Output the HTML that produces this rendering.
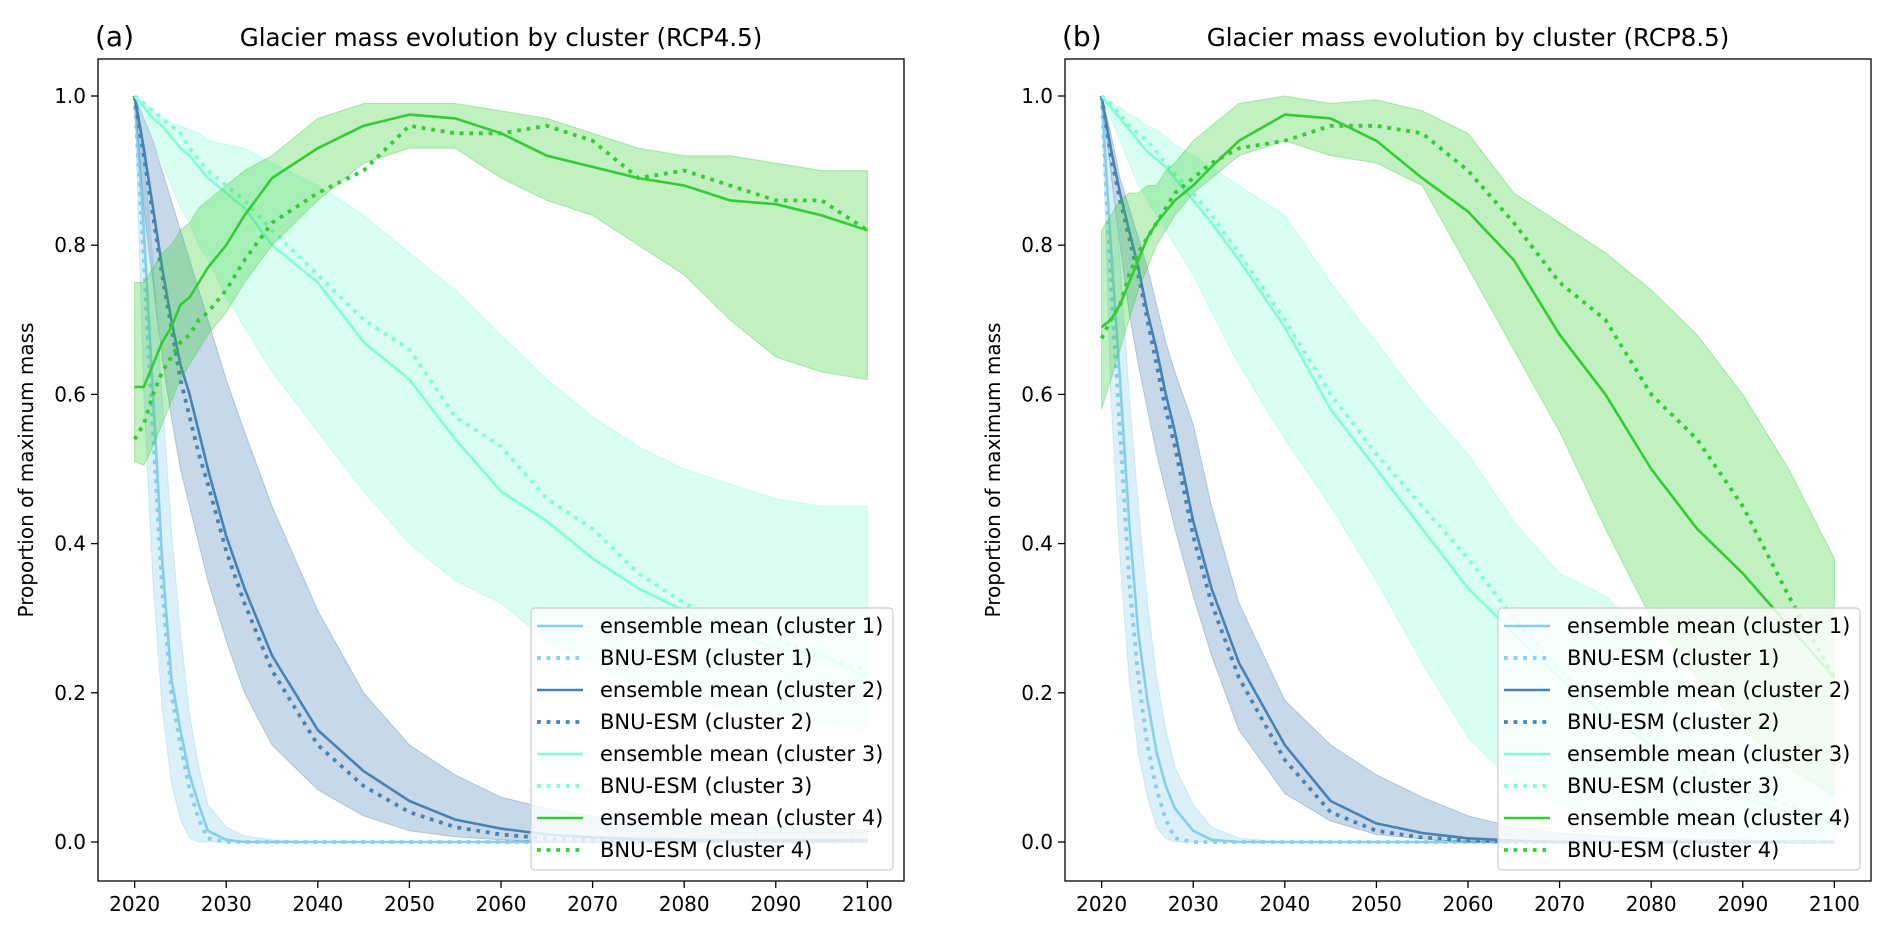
<!DOCTYPE html>
<html><head><meta charset="utf-8"><style>
html,body{margin:0;padding:0;background:#fff;}
svg{display:block;font-family:"DejaVu Sans","Liberation Sans",sans-serif;}
</style></head><body>
<svg id="chart" width="1892" height="931" viewBox="0 0 1892 931" xmlns="http://www.w3.org/2000/svg"></svg>
<script>
const years=[2020,2021,2022,2023,2024,2025,2026,2027,2028,2030,2032,2035,2040,2045,2050,2055,2060,2065,2070,2075,2080,2085,2090,2095,2100];
const xTicks=[2020,2030,2040,2050,2060,2070,2080,2090,2100];
const yTicks=[0,0.2,0.4,0.6,0.8,1.0];
const yTickLabels=["0.0","0.2","0.4","0.6","0.8","1.0"];
const titles=["Glacier mass evolution by cluster (RCP4.5)","Glacier mass evolution by cluster (RCP8.5)"];
const panelLetters=["(a)","(b)"];
const legendLabels=["ensemble mean (cluster 1)","BNU-ESM (cluster 1)","ensemble mean (cluster 2)","BNU-ESM (cluster 2)","ensemble mean (cluster 3)","BNU-ESM (cluster 3)","ensemble mean (cluster 4)","BNU-ESM (cluster 4)"];

// Panel A (RCP4.5)
const a_c1_mean=[1,0.82,0.6,0.38,0.22,0.15,0.09,0.05,0.015,0.003,0,0,0,0,0,0,0,0,0,0,0,0,0,0,0];
const a_c1_bnu=[1,0.78,0.55,0.34,0.2,0.13,0.07,0.03,0.005,0,0,0,0,0,0,0,0,0,0,0,0,0,0,0,0];
const a_c1_lo=[1,0.6,0.35,0.18,0.08,0.03,0.005,0,0,0,0,0,0,0,0,0,0,0,0,0,0,0,0,0,0];
const a_c1_hi=[1,0.92,0.78,0.6,0.42,0.28,0.17,0.1,0.05,0.02,0.008,0.003,0,0,0,0,0,0,0,0,0,0,0,0,0];
const a_c2_mean=[1,0.93,0.85,0.77,0.7,0.64,0.6,0.55,0.5,0.41,0.34,0.25,0.15,0.095,0.055,0.03,0.018,0.01,0.006,0.004,0.003,0.002,0.002,0.002,0.002];
const a_c2_bnu=[1,0.92,0.84,0.76,0.69,0.62,0.57,0.52,0.48,0.39,0.32,0.23,0.13,0.075,0.04,0.02,0.01,0.005,0.002,0.002,0.002,0.002,0.002,0.002,0.002];
const a_c2_lo=[1,0.85,0.75,0.65,0.57,0.5,0.45,0.4,0.35,0.27,0.2,0.13,0.07,0.035,0.015,0.007,0.003,0,0,0,0,0,0,0,0];
const a_c2_hi=[1,0.97,0.94,0.9,0.86,0.82,0.78,0.74,0.7,0.62,0.55,0.45,0.31,0.2,0.13,0.09,0.06,0.045,0.035,0.03,0.025,0.022,0.02,0.018,0.016];
const a_c3_mean=[1,0.985,0.97,0.96,0.945,0.93,0.92,0.905,0.89,0.87,0.85,0.8,0.75,0.67,0.62,0.54,0.47,0.43,0.38,0.34,0.31,0.28,0.26,0.25,0.22];
const a_c3_bnu=[1,0.99,0.98,0.97,0.96,0.95,0.93,0.915,0.9,0.88,0.86,0.82,0.76,0.7,0.66,0.57,0.53,0.46,0.42,0.36,0.32,0.29,0.27,0.25,0.23];
const a_c3_lo=[1,0.97,0.94,0.91,0.88,0.85,0.83,0.8,0.78,0.73,0.69,0.63,0.55,0.47,0.4,0.35,0.32,0.27,0.24,0.21,0.19,0.18,0.17,0.16,0.15];
const a_c3_hi=[1,0.99,0.98,0.97,0.965,0.96,0.955,0.95,0.94,0.935,0.93,0.91,0.88,0.84,0.79,0.74,0.68,0.62,0.57,0.53,0.5,0.48,0.46,0.45,0.45];
const a_c4_mean=[0.61,0.61,0.64,0.67,0.69,0.72,0.73,0.75,0.77,0.8,0.84,0.89,0.93,0.96,0.975,0.97,0.95,0.92,0.905,0.89,0.88,0.86,0.855,0.84,0.82];
const a_c4_bnu=[0.54,0.56,0.6,0.63,0.65,0.67,0.68,0.7,0.71,0.74,0.78,0.83,0.87,0.9,0.96,0.95,0.95,0.96,0.94,0.89,0.9,0.88,0.86,0.86,0.82];
const a_c4_lo=[0.51,0.505,0.53,0.56,0.59,0.62,0.64,0.66,0.68,0.71,0.75,0.8,0.86,0.91,0.93,0.93,0.89,0.86,0.84,0.8,0.76,0.7,0.65,0.63,0.62];
const a_c4_hi=[0.75,0.75,0.77,0.79,0.8,0.82,0.83,0.85,0.86,0.88,0.9,0.92,0.97,0.99,0.99,0.99,0.98,0.97,0.95,0.93,0.92,0.92,0.91,0.9,0.9];

// Panel B (RCP8.5)
const b_c1_mean=[1,0.8,0.62,0.43,0.28,0.19,0.12,0.075,0.045,0.015,0.003,0,0,0,0,0,0,0,0,0,0,0,0,0,0];
const b_c1_bnu=[1,0.75,0.55,0.35,0.22,0.13,0.07,0.03,0.005,0,0,0,0,0,0,0,0,0,0,0,0,0,0,0,0];
const b_c1_lo=[1,0.6,0.38,0.22,0.12,0.06,0.02,0.005,0,0,0,0,0,0,0,0,0,0,0,0,0,0,0,0,0];
const b_c1_hi=[1,0.9,0.78,0.6,0.45,0.32,0.22,0.15,0.1,0.05,0.02,0.005,0,0,0,0,0,0,0,0,0,0,0,0,0];
const b_c2_mean=[1,0.93,0.87,0.82,0.77,0.71,0.66,0.6,0.55,0.43,0.34,0.24,0.13,0.055,0.025,0.012,0.005,0.002,0,0,0,0,0,0,0];
const b_c2_bnu=[1,0.92,0.86,0.81,0.76,0.7,0.64,0.58,0.53,0.41,0.32,0.22,0.11,0.04,0.015,0.006,0.002,0,0,0,0,0,0,0,0];
const b_c2_lo=[1,0.9,0.8,0.71,0.64,0.58,0.52,0.47,0.42,0.33,0.25,0.15,0.065,0.028,0.01,0.004,0,0,0,0,0,0,0,0,0];
const b_c2_hi=[1,0.95,0.89,0.85,0.81,0.77,0.72,0.67,0.63,0.56,0.45,0.32,0.19,0.13,0.09,0.06,0.035,0.02,0.012,0.008,0.005,0.004,0.003,0.002,0.002];
const b_c3_mean=[1,0.985,0.97,0.955,0.94,0.925,0.915,0.905,0.89,0.86,0.83,0.78,0.69,0.58,0.5,0.42,0.34,0.28,0.22,0.17,0.13,0.09,0.06,0.04,0.025];
const b_c3_bnu=[1,0.99,0.975,0.96,0.95,0.94,0.925,0.91,0.895,0.87,0.84,0.79,0.7,0.6,0.52,0.45,0.38,0.3,0.23,0.18,0.14,0.1,0.07,0.05,0.03];
const b_c3_lo=[1,0.97,0.94,0.91,0.88,0.86,0.84,0.82,0.8,0.76,0.71,0.64,0.54,0.45,0.35,0.24,0.14,0.08,0.05,0.03,0.02,0.01,0.005,0,0];
const b_c3_hi=[1,0.99,0.985,0.975,0.97,0.96,0.955,0.945,0.935,0.92,0.905,0.88,0.84,0.75,0.67,0.59,0.52,0.43,0.36,0.33,0.27,0.2,0.15,0.1,0.07];
const b_c4_mean=[0.69,0.7,0.72,0.75,0.78,0.81,0.83,0.845,0.86,0.88,0.905,0.94,0.975,0.97,0.94,0.89,0.845,0.78,0.68,0.6,0.5,0.42,0.36,0.29,0.22];
const b_c4_bnu=[0.675,0.7,0.72,0.76,0.79,0.81,0.83,0.85,0.87,0.89,0.91,0.93,0.94,0.96,0.96,0.95,0.9,0.83,0.75,0.7,0.6,0.54,0.45,0.33,0.22];
const b_c4_lo=[0.58,0.62,0.66,0.7,0.74,0.77,0.8,0.82,0.84,0.87,0.89,0.92,0.94,0.92,0.91,0.88,0.77,0.66,0.55,0.42,0.3,0.22,0.15,0.1,0.06];
const b_c4_hi=[0.82,0.84,0.86,0.87,0.87,0.88,0.88,0.9,0.91,0.94,0.96,0.99,1.0,0.99,0.995,0.98,0.95,0.87,0.83,0.79,0.74,0.68,0.6,0.5,0.38];

const colors=["#87CEEB","#4682B4","#7FFFD4","#32CD32"];
const panels=[
 {off:0, data:[[a_c1_mean,a_c1_bnu,a_c1_lo,a_c1_hi],[a_c2_mean,a_c2_bnu,a_c2_lo,a_c2_hi],[a_c3_mean,a_c3_bnu,a_c3_lo,a_c3_hi],[a_c4_mean,a_c4_bnu,a_c4_lo,a_c4_hi]]},
 {off:967, data:[[b_c1_mean,b_c1_bnu,b_c1_lo,b_c1_hi],[b_c2_mean,b_c2_bnu,b_c2_lo,b_c2_hi],[b_c3_mean,b_c3_bnu,b_c3_lo,b_c3_hi],[b_c4_mean,b_c4_bnu,b_c4_lo,b_c4_hi]]}
];
const NS="http://www.w3.org/2000/svg";
const svg=document.getElementById('chart');
function mk(tag,attrs,parent){const e=document.createElementNS(NS,tag);for(const k in attrs)e.setAttribute(k,attrs[k]);(parent||svg).appendChild(e);return e;}
const L=98,R=904,T=59,B=881;
function xs(off,yr){return off+L+(yr-2016)/(2104-2016)*(R-L);}
function ys(v){return 842-v*746;}
panels.forEach((p,pi)=>{
  const off=p.off;
  const g=mk('g',{});
  
  
  const clipId='clip'+pi;
  const cp=mk('clipPath',{id:clipId},g);mk('rect',{x:off+L,y:T,width:R-L,height:B-T},cp);
  const plot=mk('g',{'clip-path':'url(#'+clipId+')'},g);
  p.data.forEach((c,ci)=>{
    const [mean,bnu,lo,hi]=c;
    let d='M';
    years.forEach((yr,i)=>{d+=xs(off,yr).toFixed(1)+','+ys(hi[i]).toFixed(1)+' L';});
    for(let i=years.length-1;i>=0;i--){d+=xs(off,years[i]).toFixed(1)+','+ys(lo[i]).toFixed(1)+(i?' L':' Z');}
    const band=mk('path',{d:d,fill:colors[ci],'fill-opacity':0.3,stroke:colors[ci],'stroke-opacity':0.35,'stroke-width':1},plot);
    
    
    const pm=years.map((yr,i)=>xs(off,yr).toFixed(1)+','+ys(mean[i]).toFixed(1)).join(' ');
    const lm=mk('polyline',{points:pm,fill:'none',stroke:colors[ci],'stroke-width':2.6,'stroke-linejoin':'round'},plot);
    
    
    const pb=years.map((yr,i)=>xs(off,yr).toFixed(1)+','+ys(bnu[i]).toFixed(1)).join(' ');
    const lb=mk('polyline',{points:pb,fill:'none',stroke:colors[ci],'stroke-width':3.8,'stroke-dasharray':'3.8 5.8'},plot);
    
    
  });
  const fr=mk('rect',{x:off+L,y:T,width:R-L,height:B-T,fill:'none',stroke:'#000','stroke-width':1.3},g);
  
  
  xTicks.forEach(t=>{
    const x=xs(off,t);
    mk('line',{x1:x,y1:B,x2:x,y2:B+7,stroke:'#000','stroke-width':1.3},g);
    const tx=mk('text',{x:x,y:911,'font-size':20,'text-anchor':'middle',fill:'#000'},g);
    tx.textContent=t;
    
    
  });
  yTicks.forEach((t,i)=>{
    const y=ys(t);
    mk('line',{x1:off+L-7,y1:y,x2:off+L,y2:y,stroke:'#000','stroke-width':1.3},g);
    const tx=mk('text',{x:off+L-12,y:y+7,'font-size':20,'text-anchor':'end',fill:'#000'},g);
    tx.textContent=yTickLabels[i];
    
    
  });
  const yl=mk('text',{x:0,y:0,'font-size':20,'text-anchor':'middle',fill:'#000',transform:'translate('+(off+33)+','+470+') rotate(-90)'},g);
  yl.textContent='Proportion of maximum mass';
  
  
  const ti=mk('text',{x:off+(L+R)/2,y:46,'font-size':24.5,'text-anchor':'middle',fill:'#000'},g);
  ti.textContent=titles[pi];
  
  
  const pl=mk('text',{x:off+95,y:46,'font-size':28,'text-anchor':'start',fill:'#000'},g);
  pl.textContent=panelLetters[pi];
  
  
  const lg=mk('g',{},g);
  
  
  const lx=off+531, ly=608;
  mk('rect',{x:lx,y:ly,width:362,height:262,rx:4,fill:'#fff','fill-opacity':0.8,stroke:'#cccccc','stroke-width':1.2},lg);
  legendLabels.forEach((lab,i)=>{
    const cy=626+i*32;
    const ci=Math.floor(i/2);
    const ent=mk('g',{},lg);
    
    
    if(i%2===0) mk('line',{x1:lx+6,y1:cy,x2:lx+52,y2:cy,stroke:colors[ci],'stroke-width':2.6},ent);
    else mk('line',{x1:lx+6,y1:cy,x2:lx+52,y2:cy,stroke:colors[ci],'stroke-width':3.8,'stroke-dasharray':'3.8 5.8'},ent);
    const tx=mk('text',{x:lx+69,y:cy+7,'font-size':21,fill:'#000'},ent);
    tx.textContent=lab;
  });
});
</script>
</body></html>
